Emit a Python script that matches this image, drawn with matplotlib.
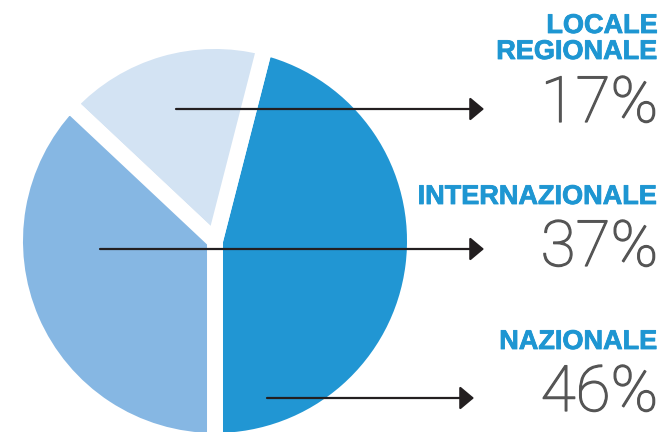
import matplotlib
matplotlib.use("Agg")
import matplotlib.pyplot as plt
import matplotlib.patheffects as pe

# Data
categories = ["NAZIONALE", "LOCALE\nREGIONALE", "INTERNAZIONALE"]
values = [46, 17, 37]
pct_labels = ["46%", "17%", "37%"]
colors = ["#2196D3", "#D3E3F3", "#86B7E3"]

W, H = 663, 432
fig = plt.figure(figsize=(W / 100, H / 100), dpi=100)
ax = fig.add_axes([0, 0, 1, 1])
ax.set_axis_off()

def Y(y_img):
    return H - y_img

ax.pie(values, colors=colors, startangle=-90, counterclock=True,
       center=(215, Y(241)), radius=200,
       wedgeprops=dict(edgecolor="white", linewidth=11.5, joinstyle="miter"))
ax.set_xlim(0, W)
ax.set_ylim(0, H)
ax.set_aspect("equal")

blue = "#1E96D2"
grey = "#555555"
xr = 658

# label layout (image coords): name baselines, pct baseline, arrow y, arrow x-start, arrow tip
layout = {
    "NAZIONALE": dict(name_y=[349], pct_y=411, ay=398, ax0=267, ax1=474),
    "LOCALE\nREGIONALE": dict(name_y=[33, 59], pct_y=122, ay=109, ax0=176, ax1=484),
    "INTERNAZIONALE": dict(name_y=[204], pct_y=266, ay=249, ax0=100, ax1=484),
}

for cat, pct in zip(categories, pct_labels):
    L = layout[cat]
    for line, ny in zip(cat.split("\n"), L["name_y"]):
        ax.text(xr, Y(ny), line, ha="right", va="baseline", color=blue,
                fontsize=19.5, fontweight="bold", family="Liberation Sans",
                path_effects=[pe.withStroke(linewidth=0.6, foreground=blue)])
    ax.text(xr, Y(L["pct_y"]), pct, ha="right", va="baseline", color=grey,
            fontsize=46, fontweight="light", family=["Roboto", "DejaVu Sans"],
            path_effects=[pe.withStroke(linewidth=0.9, foreground=grey)])
    ax.annotate("", xy=(L["ax1"], Y(L["ay"])), xytext=(L["ax0"], Y(L["ay"])),
                arrowprops=dict(arrowstyle="-|>,head_length=0.86,head_width=0.72",
                                mutation_scale=10, color="#231F20", lw=1.6,
                                shrinkA=0, shrinkB=0))

fig.savefig("out.png", dpi=100)
